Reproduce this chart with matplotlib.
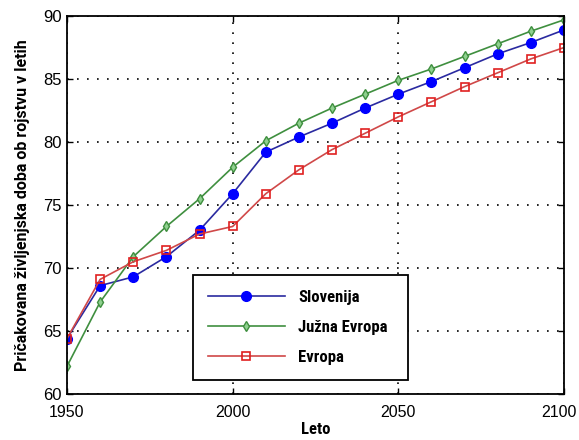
import matplotlib.pyplot as plt
import matplotlib.ticker as mticker
import matplotlib.transforms as mtransforms

years = [1950, 1960, 1970, 1980, 1990, 2000, 2010, 2020, 2030, 2040,
         2050, 2060, 2070, 2080, 2090, 2100]

slovenija = [64.4, 68.6, 69.3, 70.9, 73.0, 75.9, 79.2, 80.4, 81.5, 82.7,
             83.8, 84.8, 85.9, 87.0, 87.9, 88.9]
juzna_evropa = [62.2, 67.3, 70.9, 73.3, 75.5, 78.0, 80.1, 81.5, 82.7, 83.8,
                84.9, 85.8, 86.8, 87.8, 88.8, 89.7]
evropa = [64.4, 69.1, 70.5, 71.4, 72.7, 73.3, 75.9, 77.8, 79.4, 80.7,
          82.0, 83.2, 84.4, 85.5, 86.6, 87.5]

xticks = [1950, 2000, 2050, 2100]

narrow = ['Roboto Condensed', 'Liberation Sans']

fig = plt.figure(figsize=(5.79, 4.4), dpi=100)
ax = fig.add_axes([0.1157, 0.1045, 0.8584, 0.859])

ax.plot(years, slovenija, color='#2a2aa0', lw=1.2, marker='o', ms=7,
        mfc='#0000ff', mec='#0000ff', label='Slovenija')
ax.plot(years, juzna_evropa, color='#3f8f3f', lw=1.2, marker='d', ms=5,
        mfc='#8fd08f', mec='#3f8f3f', label='Južna Evropa')
ax.plot(years, evropa, color='#d04848', lw=1.2, marker='s', ms=6,
        mfc='none', mec='#e02020', mew=1.2, label='Evropa')

ax.set_xlim(1950, 2100)
ax.set_ylim(60, 90)
ax.set_xticks(xticks)
ax.yaxis.set_major_locator(mticker.MultipleLocator(5))
ax.grid(True, color='black', linestyle=(0, (1, 5)), linewidth=1.2)
ax.tick_params(direction='in', length=4, width=1, top=True, right=True,
               labelsize=12, pad=4)
ax.tick_params(axis='x', pad=8, labelsize=11.5)
for lab in ax.get_xticklabels() + ax.get_yticklabels():
    lab.set_family('Liberation Sans')
# nudge the 2100 label a little to the left so it stays inside the figure
last = ax.xaxis.get_major_ticks()[-1].label1
last.set_transform(last.get_transform() +
                   mtransforms.ScaledTranslation(-5 / 100, 0, fig.dpi_scale_trans))
for sp in ax.spines.values():
    sp.set_linewidth(1.3)

ax.set_xlabel('Leto', fontsize=12, fontweight='bold', labelpad=1, family=narrow)
ax.set_ylabel('Pričakovana življenjska doba ob rojstvu v letih', fontsize=11.5,
              fontweight='bold', labelpad=9, family=['Roboto', 'Liberation Sans'])

leg = ax.legend(loc='lower left', bbox_to_anchor=(0.2535, 0.037, 0.433, 0.262),
                mode='expand', fancybox=False, edgecolor='black',
                framealpha=1, handlelength=4.6, labelspacing=0.9,
                borderpad=0.9, borderaxespad=0,
                prop={'family': narrow, 'weight': 'bold', 'size': 12})
leg.get_frame().set_linewidth(1.3)

fig.savefig('out.png', dpi=100)
